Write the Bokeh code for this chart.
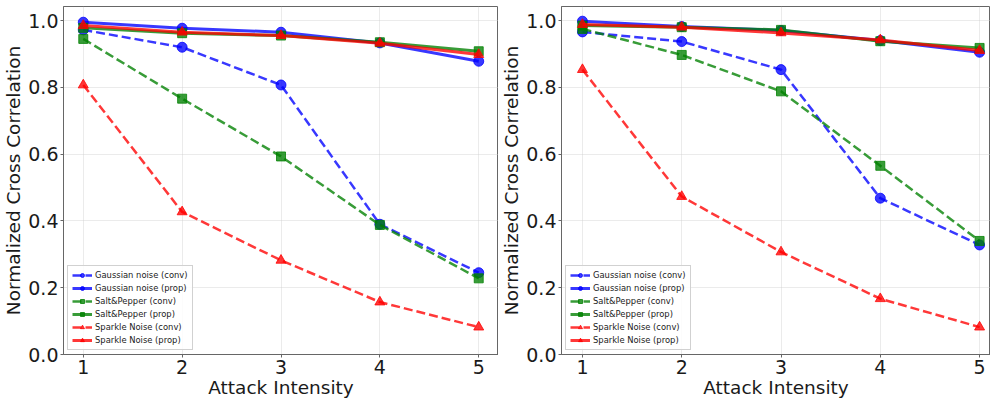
from bokeh.plotting import figure
from bokeh.layouts import row
from bokeh.models import FixedTicker, Range1d, Legend
from bokeh.embed import file_html
from bokeh.resources import INLINE

intensity = [1, 2, 3, 4, 5]

# Left panel
left_gauss_conv = [0.972, 0.920, 0.807, 0.390, 0.245]
left_gauss_prop = [0.995, 0.977, 0.965, 0.933, 0.878]
left_salt_conv = [0.945, 0.766, 0.593, 0.388, 0.228]
left_salt_prop = [0.978, 0.962, 0.955, 0.935, 0.908]
left_spark_conv = [0.807, 0.427, 0.282, 0.157, 0.082]
left_spark_prop = [0.985, 0.965, 0.955, 0.932, 0.898]

# Right panel
right_gauss_conv = [0.966, 0.937, 0.853, 0.468, 0.328]
right_gauss_prop = [0.998, 0.982, 0.970, 0.940, 0.905]
right_salt_conv = [0.975, 0.897, 0.788, 0.565, 0.340]
right_salt_prop = [0.985, 0.980, 0.972, 0.938, 0.918]
right_spark_conv = [0.853, 0.473, 0.307, 0.167, 0.082]
right_spark_prop = [0.988, 0.980, 0.963, 0.942, 0.910]

labels = ["Gaussian noise (conv)", "Gaussian noise (prop)",
          "Salt&Pepper (conv)", "Salt&Pepper (prop)",
          "Sparkle Noise (conv)", "Sparkle Noise (prop)"]
y_ticks = [0.0, 0.2, 0.4, 0.6, 0.8, 1.0]
x_label = "Attack Intensity"
y_label = "Normalized Cross Correlation"

FONT = "DejaVu Sans"


def make_panel(series, width, border_left, border_right, x_start, x_end):
    p = figure(width=width, height=402, output_backend="svg", toolbar_location=None,
               x_range=Range1d(x_start, x_end), y_range=Range1d(0.0, 1.042),
               min_border_left=border_left, min_border_right=border_right,
               min_border_top=6, min_border_bottom=48)
    p.outline_line_color = "#666666"
    p.outline_line_width = 1
    p.background_fill_color = "white"
    p.border_fill_color = "white"
    for ax in (p.xaxis[0], p.yaxis[0]):
        ax.axis_line_color = "#666666"
        ax.major_tick_line_color = "#666666"
        ax.major_tick_out = 3
        ax.major_tick_in = 0
        ax.minor_tick_line_color = None
        ax.major_label_text_font = FONT
        ax.major_label_text_font_size = "19px"
        ax.major_label_text_color = "#1a1a1a"
        ax.axis_label_text_font = FONT
        ax.axis_label_text_font_size = "18.5px"
        ax.axis_label_text_font_style = "normal"
        ax.axis_label_text_color = "#1a1a1a"
    p.yaxis.major_label_standoff = 2
    p.yaxis.axis_label_standoff = 1
    p.xaxis.major_label_standoff = 2
    p.xaxis.axis_label_standoff = 0
    p.xaxis.ticker = FixedTicker(ticks=intensity)
    p.yaxis.ticker = FixedTicker(ticks=y_ticks)
    p.yaxis.major_label_overrides = {t: f"{t:.1f}" for t in y_ticks}
    p.xaxis.major_label_overrides = {t: str(t) for t in intensity}
    p.xaxis.axis_label = x_label
    p.yaxis.axis_label = y_label
    p.grid.grid_line_color = "#cccccc"
    p.grid.grid_line_alpha = 0.4

    colors = ["blue", "blue", "green", "green", "red", "red"]
    markers = ["circle", "circle", "square", "square", "triangle", "triangle"]
    sizes = [10, 10, 9, 9, 10, 10]
    items = []
    for vals, lab, c, m, s, i in zip(series, labels, colors, markers, sizes, range(6)):
        conv = (i % 2 == 0)
        r1 = p.line(intensity, vals, line_color=c, line_alpha=0.78,
                    line_width=2.5 if conv else 3,
                    line_dash="9 4" if conv else "solid")
        r2 = p.scatter(intensity, vals, marker=m, size=s, fill_color=c, line_color=c,
                       fill_alpha=0.78, line_alpha=0.78)
        items.append((lab, [r1, r2]))
    leg = Legend(items=items, location="bottom_left")
    leg.label_text_font = FONT
    leg.label_text_font_size = "8.4px"
    leg.label_text_color = "#1a1a1a"
    leg.glyph_width = 20
    leg.glyph_height = 10
    leg.label_height = 10
    leg.label_standoff = 3
    leg.spacing = 3
    leg.padding = 4
    leg.margin = 4
    leg.border_line_color = "#cccccc"
    leg.border_line_alpha = 0.9
    leg.background_fill_alpha = 0.85
    p.add_layout(leg)
    return p


left = make_panel([left_gauss_conv, left_gauss_prop, left_salt_conv,
                   left_salt_prop, left_spark_conv, left_spark_prop],
                  498, 62, 0, 0.8, 5.2)
right = make_panel([right_gauss_conv, right_gauss_prop, right_salt_conv,
                    right_salt_prop, right_spark_conv, right_spark_prop],
                   492, 62, 0, 0.789, 5.11)

layout = row(left, right)
open("out.html", "w").write(file_html(layout, INLINE))
